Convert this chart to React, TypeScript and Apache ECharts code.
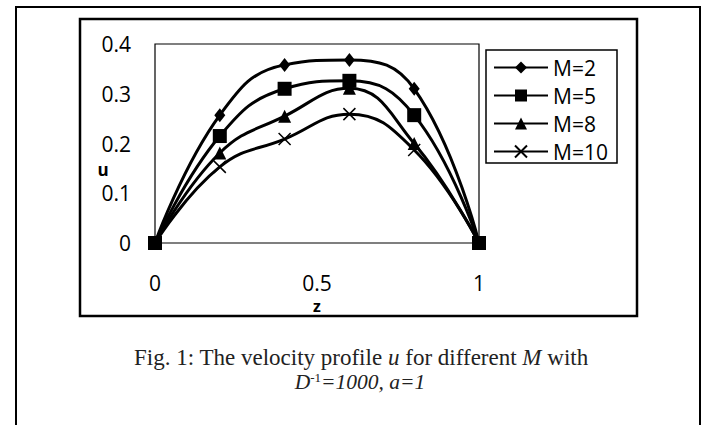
import React, { useEffect, useRef } from "react";
import * as echarts from "echarts";

const zValues = [0, 0.2, 0.4, 0.6, 0.8, 1];
const uM2 = [0, 0.257, 0.358, 0.368, 0.31, 0];
const uM5 = [0, 0.215, 0.31, 0.326, 0.257, 0];
const uM8 = [0, 0.181, 0.255, 0.311, 0.2, 0];
const uM10 = [0, 0.153, 0.209, 0.259, 0.187, 0];
const seriesNames = ["M=2", "M=5", "M=8", "M=10"];
const xTicks = { min: 0, max: 1, interval: 0.5 };
const yTicks = { min: 0, max: 0.4, interval: 0.1 };

const CROSS = "path://M0,0L10,10M10,0L0,10";

export default function App() {
  const ref = useRef<HTMLDivElement>(null);
  useEffect(() => {
    if (!ref.current) return;
    const chart = echarts.init(ref.current, null, { renderer: "svg" });
    const zip = (ys: number[]) => zValues.map((z, i) => [z, ys[i]]);
    const base = {
      type: "line",
      smooth: 0.45,
      clip: false,
      lineStyle: { color: "#000", width: 3 },
      itemStyle: { color: "#000", borderColor: "#000", borderWidth: 0 },
    };
    chart.setOption({
      animation: false,
      backgroundColor: "#fff",
      textStyle: { fontFamily: "Open Sans", color: "#000" },
      grid: {
        left: 155,
        top: 44,
        width: 324,
        height: 199,
        show: true,
        borderColor: "#000",
        borderWidth: 1.2,
        backgroundColor: "transparent",
      },
      xAxis: {
        type: "value",
        min: xTicks.min,
        max: xTicks.max,
        interval: xTicks.interval,
        axisLine: { show: false },
        axisTick: { show: false },
        splitLine: { show: false },
        axisLabel: { fontSize: 21, color: "#000", margin: 30, fontFamily: "Open Sans", lineHeight: 20 },
      },
      yAxis: {
        type: "value",
        min: yTicks.min,
        max: yTicks.max,
        interval: yTicks.interval,
        axisLine: { show: false },
        axisTick: { show: false },
        splitLine: { show: false },
        axisLabel: {
          fontSize: 21,
          lineHeight: 18,
          color: "#000",
          margin: 24,
          fontFamily: "Open Sans",
          formatter: (v: number) => (v === 0 ? "0" : v.toFixed(1)),
        },
      },
      legend: {
        orient: "vertical",
        left: 486,
        top: 50,
        padding: [7, 2, 6, 7],
        itemWidth: 54,
        itemHeight: 15,
        itemGap: 7,
        data: seriesNames,
        textStyle: { fontSize: 21, color: "#000", fontFamily: "Open Sans", lineHeight: 20 },
      },
      graphic: [
        {
          type: "rect",
          shape: { x: 16, y: 7, width: 684, height: 440 },
          style: { fill: "none", stroke: "#000", lineWidth: 2 },
          silent: true,
        },
        {
          type: "rect",
          shape: { x: 80, y: 19, width: 557, height: 297 },
          style: { fill: "none", stroke: "#000", lineWidth: 2.5 },
          silent: true,
        },
        {
          type: "rect",
          shape: { x: 486, y: 50, width: 131, height: 113 },
          style: { fill: "none", stroke: "#000", lineWidth: 1.5 },
          silent: true,
        },
        {
          type: "text",
          x: 103,
          y: 169,
          style: {
            text: "u",
            fontSize: 17,
            lineHeight: 12,
            fontWeight: "bold",
            fontFamily: "Open Sans",
            fill: "#000",
            align: "center",
            verticalAlign: "middle",
          },
        },
        {
          type: "text",
          x: 317,
          y: 306,
          style: {
            text: "z",
            fontSize: 16,
            lineHeight: 12,
            fontWeight: "bold",
            fontFamily: "Open Sans",
            fill: "#000",
            align: "center",
            verticalAlign: "middle",
          },
        },
        {
          type: "text",
          x: 361,
          y: 357,
          style: {
            text: "{n|Fig. 1: The velocity profile }{i|u}{n| for different }{i|M}{n| with}",
            align: "center",
            verticalAlign: "middle",
            fill: "#000",
            rich: {
              n: { fontSize: 23, fontFamily: "Liberation Serif", fill: "#222" },
              i: { fontSize: 23, fontFamily: "Liberation Serif", fontStyle: "italic", fill: "#222" },
            },
          },
        },
        {
          type: "text",
          x: 360,
          y: 382,
          style: {
            text: "{i|D}{s|-1}{i|=1000, a=1}",
            align: "center",
            verticalAlign: "middle",
            fill: "#000",
            rich: {
              i: { fontSize: 21.5, fontFamily: "Liberation Serif", fontStyle: "italic", fill: "#222" },
              s: { fontSize: 13, fontFamily: "Liberation Serif", fill: "#222", padding: [0, 0, 10, 0] },
            },
          },
        },
      ],
      series: [
        { ...base, name: seriesNames[0], data: zip(uM2), symbol: "diamond", symbolSize: [11, 14], z: 3 },
        { ...base, name: seriesNames[1], data: zip(uM5), symbol: "rect", symbolSize: 14, z: 6 },
        { ...base, name: seriesNames[2], data: zip(uM8), symbol: "triangle", symbolSize: 13, z: 4 },
        {
          ...base,
          name: seriesNames[3],
          data: zip(uM10),
          symbol: CROSS,
          symbolSize: 12,
          z: 5,
          itemStyle: { color: "#000", borderColor: "#000", borderWidth: 1.5 },
        },
      ],
    });
    return () => chart.dispose();
  }, []);
  return (
    <div
      ref={ref}
      style={{ position: "absolute", left: 0, top: 0, width: 707, height: 425 }}
    />
  );
}
